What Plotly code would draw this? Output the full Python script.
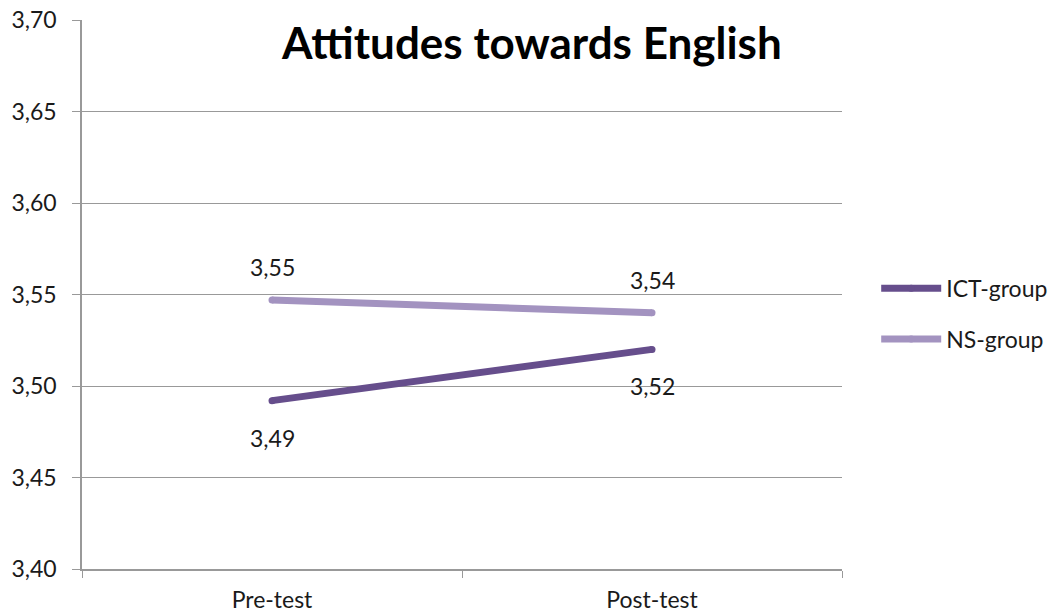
import plotly.graph_objects as go

# Mean attitude scores per group at each measurement point
phases = ["Pre-test", "Post-test"]
ict_group = [3.492, 3.520]
ns_group = [3.547, 3.540]
y_ticks = [3.40, 3.45, 3.50, 3.55, 3.60, 3.65, 3.70]

ICT_COLOR = "#664E8C"
NS_COLOR = "#A393C0"
FONT = "Lato"
TEXT = "#1a1a1a"
LINE_W = 7

fig = go.Figure()
# Small end markers of the line's width give the strokes rounded ends
fig.add_trace(go.Scatter(x=phases, y=ict_group, name="ICT-group", mode="lines+markers",
                         legendgroup="ict",
                         line=dict(color=ICT_COLOR, width=LINE_W),
                         marker=dict(color=ICT_COLOR, size=LINE_W, line=dict(width=0))))
fig.add_trace(go.Scatter(x=phases, y=ns_group, name="NS-group", mode="lines+markers",
                         legendgroup="ns",
                         line=dict(color=NS_COLOR, width=LINE_W),
                         marker=dict(color=NS_COLOR, size=LINE_W, line=dict(width=0))))

# Value labels: ICT below its line, NS above
for xs, ys, shift in ((phases, ict_group, -37), (phases, ns_group, 33)):
    for x, y in zip(xs, ys):
        fig.add_annotation(x=x, y=y, text=f"{y:.2f}".replace(".", ","),
                           showarrow=False, yshift=shift,
                           font=dict(family=FONT, size=23, color=TEXT))

fig.update_layout(
    width=1049, height=616,
    margin=dict(l=82, r=207, t=20, b=47, autoexpand=False),
    paper_bgcolor="white", plot_bgcolor="white",
    separators=",.",
    font=dict(family=FONT, size=23, color=TEXT),
    title=dict(text="<b>Attitudes towards English</b>", x=0.592, xref="paper",
               xanchor="center", y=1 - 44 / 616, yanchor="middle",
               font=dict(family=FONT, size=44, color="black")),
    legend=dict(x=1.045, xanchor="left", y=0.465, yanchor="middle",
                font=dict(family=FONT, size=23, color=TEXT),
                tracegroupgap=18, itemwidth=60),
    showlegend=True,
)
fig.update_xaxes(type="category", range=[-0.5, 1.5], tickson="boundaries",
                 ticks="outside", ticklen=7, tickcolor="#999999",
                 showline=True, linecolor="#999999", linewidth=1.5,
                 showgrid=False, ticklabelstandoff=10, automargin=False)
fig.update_yaxes(range=[3.40, 3.70], tickvals=y_ticks, tickformat=".2f",
                 ticks="outside", ticklen=8, tickcolor="#999999",
                 showline=True, linecolor="#999999", linewidth=1.5,
                 showgrid=True, gridcolor="#999999", gridwidth=1.2,
                 zeroline=False, ticklabelstandoff=11, automargin=False)

fig.write_html("out.html")
